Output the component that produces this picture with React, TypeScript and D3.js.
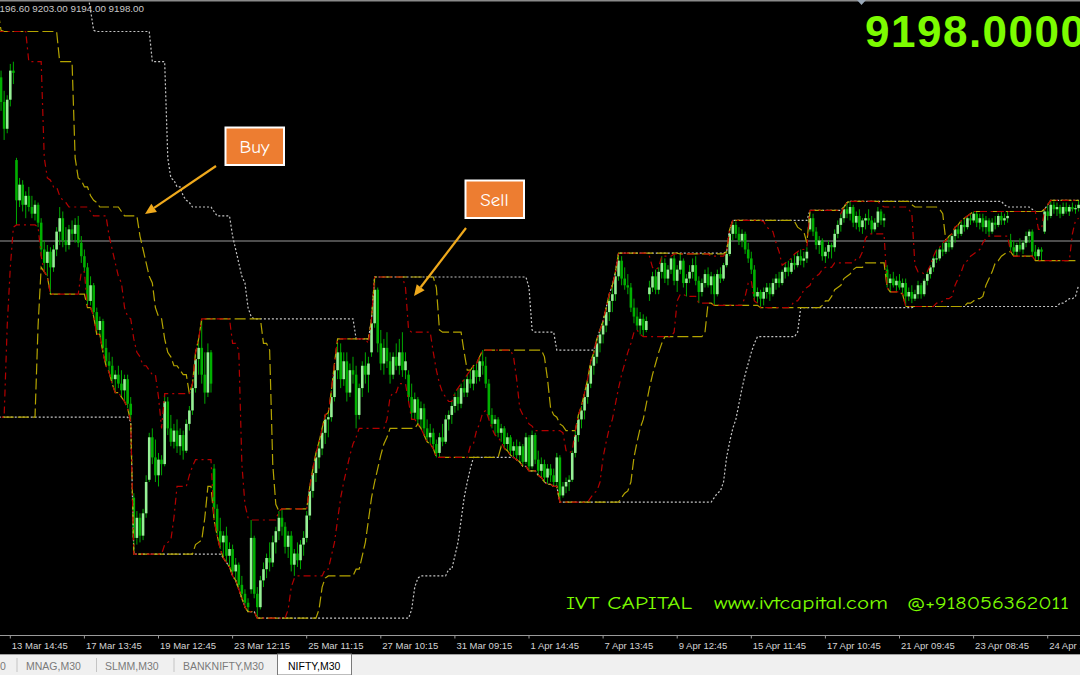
import React from 'react';
import * as d3 from 'd3';

// number of seed bars that lie left of the visible window (used for the channels)
const PRE = 25;

const opens = [
  10150,10180,10230,10250,10220,10200,10100,10000,9920,9820,9750,9650,9200,9050,8950,8850,8700,8600,8850,9120,9360,9560,9760,9900,10020,
  9930,9820,9700,9830,9960,
  9560,9380,9450,9360,9400,9350,9320,9360,
  9280,9160,9100,9150,
  9080,9160,9240,9300,9200,9180,9250,9230,9270,9190,
  9130,9080,8930,9000,8880,8800,8840,8720,8660,
  8640,8580,8600,8560,8530,8580,8470,
  8050,7870,7960,7880,7980,
  8130,8320,8230,8150,
  8220,8200,8480,8360,8300,8350,8280,8330,8260,8380,
  8440,8540,8670,8720,
  8600,8520,8700,
  8180,8000,7900,7850,7880,7790,7820,7720,7750,7660,7620,7580,7640,7870,7620,
  7560,7680,7730,7780,7760,7850,7900,7960,
  7920,7830,7880,7750,7800,7770,7840,7870,7970,
  8080,8160,8230,8270,8340,8400,8410,
  8500,8620,8700,8580,8660,8520,8620,8600,8420,8540,8640,8600,
  8700,8830,
  8980,8740,8650,8720,8660,8600,8680,8640,8700,8620,
  8600,8500,8430,8490,8400,8450,8360,8320,8340,8290,
  8250,8320,8300,8400,
  8420,8460,8500,8470,8540,8520,8580,8560,8620,8590,8660,8640,
  8560,8420,8380,8400,8340,8360,8290,8320,8260,
  8280,8240,8280,8210,8320,
  8190,8330,8220,8170,8200,8140,8180,8150,8120,8230,8060,8100,8120,
  8130,8250,8330,8400,8440,8500,
  8560,8640,8680,8740,8780,8820,8880,8930,8960,
  9040,9110,9030,9000,
  8990,8900,8860,8820,8850,8800,
  8960,8990,9040,8980,9060,9100,9030,9070,9120,9020,9070,9110,9010,9030,
  9060,9090,9020,8970,9010,9050,9000,9040,8960,9050,9030,9090,9140,
  9230,9270,9230,9200,9230,9160,9120,
  9070,8950,8970,
  8940,8970,8990,8960,9010,9030,9010,9060,9080,9060,9100,9090,9130,9110,9120,
  9250,9300,9240,9180,9200,9130,9150,9180,9170,9230,9270,
  9300,9340,9320,9350,9280,9310,9260,9290,9300,9290,9250,9280,9330,9290,
  9070,9010,9030,9000,9020,8990,9010,8950,8970,8940,8960,9000,8960,9020,9050,9080,
  9120,9120,9160,9150,9190,9170,9220,9250,9230,9270,9260,9300,9290,
  9320,9280,9300,9260,9290,9240,9280,9270,9310,9290,9300,
  9200,9170,9150,9180,9160,9190,9220,9240,9150,9130,9160,
  9240,9330,9310,9360,9340,9350,9320,9350,9330,9350,9340,9345,
];

const highs = [
  10210,10260,10280,10290,10310,10230,10140,10050,9960,9880,9790,9700,9250,9100,9000,8900,8750,8900,9150,9400,9600,9800,9950,10080,10135,
  9960,9870,9850,9990,10000,
  9570,9480,9470,9420,9440,9400,9380,9370,
  9300,9200,9180,9170,
  9180,9260,9350,9330,9260,9270,9290,9300,9310,9220,
  9160,9100,9040,9010,8900,8860,8850,8760,8700,
  8680,8620,8640,8620,8600,8600,8500,
  8070,7990,7980,8000,8150,
  8340,8360,8310,8250,
  8240,8515,8500,8420,8380,8400,8360,8350,8400,8460,
  8560,8700,8760,8850,
  8700,8740,8710,
  8200,8020,7960,7900,7920,7850,7840,7780,7760,7700,7640,7600,7950,7880,7650,
  7700,7760,7800,7850,7880,7920,7990,8000,
  7940,7900,7900,7820,7850,7860,7900,7990,8100,
  8180,8250,8300,8360,8420,8430,8530,
  8650,8760,8740,8700,8700,8650,8680,8640,8560,8660,8700,8680,
  8850,9037,
  8990,8800,8760,8790,8700,8700,8740,8760,8790,8700,
  8620,8560,8520,8500,8480,8470,8400,8380,8360,8310,
  8340,8380,8420,8440,
  8480,8520,8540,8560,8580,8600,8620,8640,8650,8680,8710,8680,
  8580,8450,8420,8410,8380,8370,8340,8330,8300,
  8310,8300,8290,8340,8330,
  8350,8340,8260,8230,8220,8200,8200,8180,8250,8240,8120,8140,8150,
  8260,8350,8420,8460,8520,8580,
  8660,8700,8760,8800,8840,8900,8960,9000,9060,
  9144,9130,9080,9050,
  9010,8940,8900,8880,8870,8860,
  9020,9060,9070,9080,9130,9120,9090,9125,9140,9090,9140,9120,9050,9090,
  9120,9130,9040,9030,9070,9080,9060,9050,9070,9080,9100,9150,9250,
  9290,9285,9260,9250,9240,9190,9150,
  9090,8990,8980,
  8990,9010,9010,9030,9050,9060,9070,9100,9110,9120,9140,9150,9160,9150,9170,
  9335,9320,9260,9220,9210,9170,9200,9190,9250,9290,9320,
  9350,9370,9375,9360,9330,9340,9300,9320,9340,9310,9300,9350,9340,9320,
  9090,9050,9060,9040,9050,9030,9030,8990,9000,8980,9020,9010,9030,9060,9090,9130,
  9160,9170,9190,9200,9220,9230,9260,9270,9290,9300,9310,9320,9330,
  9330,9320,9320,9310,9300,9300,9310,9320,9330,9320,9330,
  9230,9200,9190,9210,9200,9240,9250,9250,9180,9170,9170,
  9340,9360,9380,9375,9370,9360,9370,9370,9360,9370,9360,9380,
];

const lows = [
  10100,10150,10190,10200,10180,10080,9980,9900,9800,9720,9620,9560,9000,8900,8800,8650,8550,8410,8820,9080,9260,9520,9700,9850,9900,
  9780,9650,9680,9800,9900,
  9270,9350,9330,9300,9330,9300,9290,9260,
  9130,9060,9040,8960,
  9060,9130,9180,9170,9150,9160,9200,9190,9170,9100,
  9060,8900,8910,8860,8780,8780,8700,8640,8610,
  8560,8520,8540,8500,8480,8450,8390,
  7797,7840,7850,7860,7960,
  8120,8200,8120,8100,
  8150,8190,8330,8280,8270,8250,8240,8220,8250,8350,
  8420,8520,8600,8560,
  8470,8500,8520,
  7950,7880,7820,7780,7760,7740,7700,7680,7640,7600,7560,7540,7620,7600,7511,
  7550,7650,7690,7720,7740,7800,7860,7880,
  7800,7780,7720,7700,7740,7730,7790,7850,7950,
  8050,8120,8180,8240,8290,8320,8390,
  8480,8580,8540,8550,8480,8500,8560,8360,8400,8500,8560,8520,
  8680,8810,
  8700,8620,8600,8630,8560,8580,8620,8600,8590,8580,
  8480,8400,8400,8380,8360,8330,8300,8290,8270,8230,
  8230,8280,8290,8350,
  8380,8430,8440,8450,8500,8500,8540,8530,8560,8570,8600,8540,
  8400,8360,8330,8320,8300,8270,8260,8240,8230,
  8220,8210,8190,8200,8170,
  8180,8200,8150,8140,8120,8110,8120,8100,8100,8030,8050,8070,8080,
  8120,8230,8300,8360,8400,8470,
  8540,8600,8650,8700,8740,8790,8840,8880,8930,
  9020,9000,8980,8960,
  8880,8830,8800,8780,8770,8790,
  8930,8970,8960,8960,9030,9010,9000,9050,9000,8970,9050,8990,8950,9010,
  9030,9000,8920,8950,8990,8990,8960,8910,8950,9010,9020,9080,9130,
  9200,9210,9180,9170,9140,9100,9050,
  8930,8920,8900,
  8910,8940,8930,8950,8980,8990,9000,9030,9040,9050,9070,9080,9090,9080,9100,
  9240,9220,9160,9140,9110,9100,9120,9120,9150,9210,9240,
  9280,9300,9290,9260,9250,9240,9230,9250,9270,9230,9240,9260,9270,9260,
  8990,8970,8990,8970,8980,8960,8905,8930,8920,8930,8940,8940,8950,9000,9030,9060,
  9100,9110,9130,9140,9150,9160,9190,9210,9220,9240,9250,9270,9280,
  9260,9250,9240,9230,9220,9230,9250,9260,9270,9270,9280,
  9150,9130,9130,9150,9140,9170,9190,9130,9110,9110,9110,
  9230,9290,9300,9320,9310,9300,9310,9320,9310,9330,9320,9330,
];

const closes = [
  10180,10230,10250,10220,10200,10100,10000,9920,9820,9750,9650,9590,9050,8950,8850,8700,8600,8850,9120,9360,9560,9760,9900,10020,9930,
  9820,9700,9830,9960,9950,
  9380,9450,9360,9400,9350,9320,9360,9280,
  9160,9100,9150,9080,
  9160,9240,9300,9200,9180,9250,9230,9270,9190,9130,
  9080,8930,9000,8880,8800,8840,8720,8660,8640,
  8580,8600,8560,8530,8580,8470,8420,
  7870,7960,7880,7980,8120,
  8320,8230,8150,8220,
  8200,8480,8360,8300,8350,8280,8330,8260,8380,8440,
  8540,8670,8720,8600,
  8520,8700,8560,
  8000,7900,7850,7880,7790,7820,7720,7750,7660,7620,7580,7560,7870,7620,7560,
  7680,7730,7780,7760,7850,7900,7960,7920,
  7830,7880,7750,7800,7770,7840,7870,7970,8080,
  8160,8230,8270,8340,8400,8410,8500,
  8620,8700,8580,8660,8520,8620,8600,8420,8540,8640,8600,8650,
  8830,8980,
  8740,8650,8720,8660,8600,8680,8640,8700,8620,8660,
  8500,8430,8490,8400,8450,8360,8320,8340,8290,8250,
  8320,8300,8400,8420,
  8460,8500,8470,8540,8520,8580,8560,8620,8590,8660,8640,8560,
  8420,8380,8400,8340,8360,8290,8320,8260,8280,
  8240,8280,8210,8320,8190,
  8330,8220,8170,8200,8140,8180,8150,8120,8230,8060,8100,8120,8130,
  8250,8330,8400,8440,8500,8560,
  8640,8680,8740,8780,8820,8880,8930,8960,9040,
  9110,9030,9000,8990,
  8900,8860,8820,8850,8800,8840,
  8990,9040,8980,9060,9100,9030,9070,9120,9020,9070,9110,9010,9030,9060,
  9090,9020,8970,9010,9050,9000,9040,8960,9050,9030,9090,9140,9230,
  9270,9230,9200,9230,9160,9120,9070,
  8950,8970,8940,
  8970,8990,8960,9010,9030,9010,9060,9080,9060,9100,9090,9130,9110,9120,9150,
  9300,9240,9180,9200,9130,9150,9180,9170,9230,9270,9300,
  9340,9320,9350,9280,9310,9260,9290,9300,9290,9250,9280,9330,9290,9300,
  9010,9030,9000,9020,8990,9010,8950,8970,8940,8960,9000,8960,9020,9050,9080,9120,
  9120,9160,9150,9190,9170,9220,9250,9230,9270,9260,9300,9290,9320,
  9280,9300,9260,9290,9240,9280,9270,9310,9290,9300,9310,
  9170,9150,9180,9160,9190,9220,9240,9150,9130,9160,9150,
  9330,9310,9360,9340,9350,9320,9350,9330,9350,9340,9345,9360,
];

const tickBars = [3, 27, 51, 75, 99, 123, 147, 171, 195, 219, 243, 267, 291, 315, 339];
const tickLabels = [
  '13 Mar 14:45', '17 Mar 13:45', '19 Mar 12:45', '23 Mar 12:15', '25 Mar 11:15',
  '27 Mar 10:15', '31 Mar 09:15', '1 Apr 14:45', '7 Apr 13:45', '9 Apr 12:45',
  '15 Apr 11:45', '17 Apr 10:45', '21 Apr 09:45', '23 Apr 08:45', '24 Apr 14:15',
];
const channelPeriods = [50, 20, 10];
const lastPrice = 9198.0;
const headerPrices = [9196.6, 9203.0, 9194.0, 9198.0];
const tabNames = ['MNAG,M30', 'SLMM,M30', 'BANKNIFTY,M30', 'NIFTY,M30'];

const W = 1080;
const H = 675;
const AXIS_Y = 635;

const chStyle: Record<number, { stroke: string; dash: string }> = {
  50: { stroke: '#c4c4c4', dash: '2,2' },
  20: { stroke: '#b4a400', dash: '11,4' },
  10: { stroke: '#b40000', dash: '7,4,2,4' },
};

function Arrow({ x1, y1, x2, y2 }: { x1: number; y1: number; x2: number; y2: number }) {
  const dx = x2 - x1, dy = y2 - y1;
  const len = Math.hypot(dx, dy);
  const ux = dx / len, uy = dy / len;
  const hl = 11, hw = 5;
  const bx = x2 - ux * hl, by = y2 - uy * hl;
  const pts = `${x2},${y2} ${bx - uy * hw},${by + ux * hw} ${bx + uy * hw},${by - ux * hw}`;
  return (
    <g>
      <line x1={x1} y1={y1} x2={bx} y2={by} stroke="#efa91c" strokeWidth={2.2} />
      <polygon points={pts} fill="#efa91c" />
    </g>
  );
}

export default function App() {
  const x = d3.scaleLinear().domain([0, 1]).range([1.04, 1.04 + 3.0875]);
  const y = d3.scaleLinear().domain([7458, 10276]).range([630, 0]);

  const bars = d3.range(closes.length).map((j) => ({
    i: j - PRE,
    o: opens[j],
    c: closes[j],
    h: Math.max(highs[j], opens[j], closes[j]),
    l: Math.min(lows[j], opens[j], closes[j]),
  }));

  const channel = (p: number) =>
    bars.map((b, j) => {
      const win = bars.slice(Math.max(0, j - p + 1), j + 1);
      return { i: b.i, up: d3.max(win, (d) => d.h) as number, lo: d3.min(win, (d) => d.l) as number };
    });

  const upLine = d3.line<{ i: number; up: number; lo: number }>().x((d) => x(d.i)).y((d) => y(d.up));
  const loLine = d3.line<{ i: number; up: number; lo: number }>().x((d) => x(d.i)).y((d) => y(d.lo));

  const font = "'Liberation Sans', Arial, sans-serif";
  const comic = "'Comic Sans MS', 'Comic Neue', 'DejaVu Sans', sans-serif";

  const tabX = [26, 105, 183, 288];
  const sepX = [17, 96.5, 174];

  return (
    <svg width={W} height={H} style={{ position: 'absolute', left: 0, top: 0, display: 'block' }}>
      <defs>
        <clipPath id="plot">
          <rect x={0} y={1} width={W} height={AXIS_Y - 1} />
        </clipPath>
      </defs>
      <rect x={0} y={0} width={W} height={H} fill="#000" />

      <g clipPath="url(#plot)">
        {/* current price line */}
        <line x1={0} x2={W} y1={y(lastPrice)} y2={y(lastPrice)} stroke="#9a9a9a" strokeWidth={1.2} />

        {/* candles */}
        {bars.map((b, j) => {
          const cx = x(b.i);
          const bull = b.c >= b.o;
          const top = y(Math.max(b.o, b.c));
          const bh = Math.max(1, Math.abs(y(b.o) - y(b.c)));
          return (
            <g key={j}>
              <line x1={cx} x2={cx} y1={y(b.h)} y2={y(b.l)} stroke="#00a800" strokeWidth={1} />
              <rect x={cx - 1.3} y={top} width={2.6} height={bh} fill={bull ? '#96f096' : '#00b000'} />
            </g>
          );
        })}

        {/* Donchian-style channels */}
        {channelPeriods.map((p) => {
          const ch = channel(p);
          const st = chStyle[p];
          return (
            <g key={p} fill="none" stroke={st.stroke} strokeWidth={1.2} strokeDasharray={st.dash}>
              <path d={upLine(ch) as string} />
              <path d={loLine(ch) as string} />
            </g>
          );
        })}
      </g>

      {/* top border and shift marker */}
      <line x1={0} x2={W} y1={0.75} y2={0.75} stroke="#8a8a8a" strokeWidth={1.5} />
      <polygon points="857,0 866,0 861.5,5" fill="#9aa8b8" />

      {/* header OHLC text */}
      <text x={144} y={11.5} textAnchor="end" fontFamily={font} fontSize={9.8} fill="#c8c8c8">
        {headerPrices.map((p) => p.toFixed(2)).join(' ')}
      </text>

      {/* big price */}
      <text x={865} y={47} fontFamily={font} fontWeight="bold" fontSize={44} letterSpacing={1.5} fill="#7cfc00">
        {lastPrice.toFixed(4)}
      </text>

      {/* annotations */}
      <Arrow x1={216} y1={166} x2={145} y2={214} />
      <rect x={225.5} y={127.5} width={58.5} height={37.5} fill="#ed7d31" stroke="#fff" strokeWidth={2} />
      <text x={254.5} y={153} textAnchor="middle" fontFamily={comic} fontSize={19} fill="#fff">Buy</text>

      <Arrow x1={466} y1={228} x2={414} y2={296} />
      <rect x={465.5} y={180.5} width={58.5} height={37.5} fill="#ed7d31" stroke="#fff" strokeWidth={2} />
      <text x={494.5} y={206} textAnchor="middle" fontFamily={comic} fontSize={19} fill="#fff">Sell</text>

      {/* watermark */}
      <g fontFamily={comic} fontSize={19} fill="#7cfc00">
        <text x={566} y={609} textLength={126} lengthAdjust="spacingAndGlyphs">IVT CAPITAL</text>
        <text x={714} y={609} textLength={174} lengthAdjust="spacingAndGlyphs">www.ivtcapital.com</text>
        <text x={907} y={609} textLength={162} lengthAdjust="spacingAndGlyphs">@+918056362011</text>
      </g>

      {/* time axis */}
      <line x1={0} x2={W} y1={AXIS_Y + 0.5} y2={AXIS_Y + 0.5} stroke="#9a9a9a" strokeWidth={1} />
      {tickBars.map((tb, k) => {
        const tx = x(tb);
        return (
          <g key={k}>
            <line x1={tx} x2={tx} y1={AXIS_Y} y2={AXIS_Y + 3.5} stroke="#9a9a9a" strokeWidth={1} />
            <text x={tx + 1.5} y={648.5} fontFamily={font} fontSize={9.5} fill="#d4d4d4">{tickLabels[k]}</text>
          </g>
        );
      })}

      {/* tab bar */}
      <rect x={0} y={654} width={W} height={H - 654} fill="#f0f0f0" />
      <line x1={0} x2={W} y1={654.5} y2={654.5} stroke="#a0a0a0" strokeWidth={1} />
      <text x={0} y={670} fontFamily={font} fontSize={10.5} fill="#7a7a7a">0</text>
      {sepX.map((sx, k) => (
        <line key={k} x1={sx} x2={sx} y1={658} y2={672} stroke="#c4c4c4" strokeWidth={1} />
      ))}
      <rect x={277.5} y={654} width={74} height={21} fill="#ffffff" stroke="#7a7a7a" strokeWidth={1} />
      {tabNames.map((t, k) => (
        <text key={t} x={tabX[k]} y={670} fontFamily={font} fontSize={10.5} fill={k === 3 ? '#000' : '#7a7a7a'}>
          {t}
        </text>
      ))}
    </svg>
  );
}
